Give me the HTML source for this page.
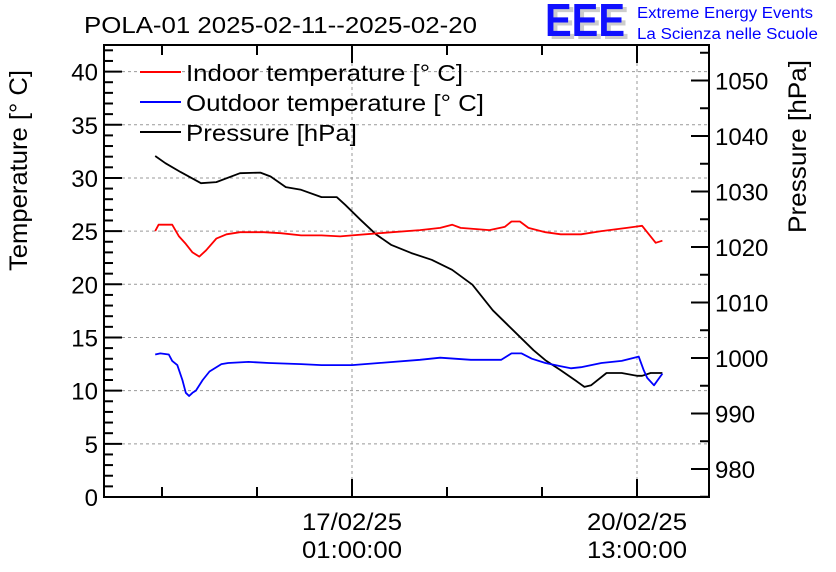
<!DOCTYPE html>
<html><head><meta charset="utf-8"><style>
body{margin:0;background:#fff}
svg{display:block;font-family:"Liberation Sans",sans-serif}
</style></head><body>
<svg id="c" width="836" height="572" viewBox="0 0 836 572">
<text x="84" y="33" font-size="23" textLength="393" lengthAdjust="spacingAndGlyphs">POLA-01 2025-02-11--2025-02-20</text>
<g>
<text x="549" y="39" font-size="46" font-weight="bold" fill="#ccc" textLength="80" lengthAdjust="spacingAndGlyphs">EEE</text>
<text x="545" y="36" font-size="46" font-weight="bold" fill="#1010ff" textLength="80" lengthAdjust="spacingAndGlyphs">EEE</text>
<text x="637" y="18" font-size="15.5" fill="#0000ff" textLength="176" lengthAdjust="spacingAndGlyphs">Extreme Energy Events</text>
<text x="637" y="39" font-size="15.5" fill="#0000ff" textLength="181" lengthAdjust="spacingAndGlyphs">La Scienza nelle Scuole</text>
</g>
<text transform="translate(27,271) rotate(-90)" font-size="25" textLength="201" lengthAdjust="spacingAndGlyphs">Temperature [° C]</text>
<text transform="translate(806,233) rotate(-90)" font-size="25" textLength="173" lengthAdjust="spacingAndGlyphs">Pressure [hPa]</text>
<g id="grid"></g><g id="axes"></g><g id="series"></g>
<g>
<line x1="140" y1="72" x2="181" y2="72" stroke="#f00" stroke-width="2"/>
<text x="186" y="81" font-size="23" textLength="277" lengthAdjust="spacingAndGlyphs">Indoor temperature [° C]</text>
<line x1="140" y1="102" x2="181" y2="102" stroke="#00f" stroke-width="2"/>
<text x="186" y="111" font-size="23" textLength="298" lengthAdjust="spacingAndGlyphs">Outdoor temperature [° C]</text>
<line x1="140" y1="132" x2="181" y2="132" stroke="#000" stroke-width="2"/>
<text x="186" y="141" font-size="23" textLength="171" lengthAdjust="spacingAndGlyphs">Pressure [hPa]</text>
</g>
</svg>
<script>
// time in hours relative to 17/02/25 01:00:00
const indoorT=[-58,-57,-53,-51,-49,-47,-45,-43,-40,-37,-33,-26,-21,-15,-9,-3.5,0,8,20,26,29.5,32,40.5,45,47,49.5,52,57,61.5,67.5,73.5,81,85.5,88,89.5,91.5];
const indoorV=[25,25.6,25.6,24.5,23.8,23,22.6,23.2,24.3,24.7,24.9,24.9,24.8,24.6,24.6,24.5,24.6,24.8,25.1,25.3,25.6,25.3,25.1,25.4,25.9,25.9,25.3,24.9,24.7,24.7,25.0,25.3,25.5,24.5,23.9,24.1];
const outdoorT=[-58,-56.5,-54,-53,-51.5,-50,-49,-48,-47,-46,-44,-42,-38.5,-36.5,-30.5,-24.5,-15,-9,0,8,20,26,35,44,47,50,53,57,61.5,64.5,67.5,73.5,79.5,84.5,86,87,89,91.5];
const outdoorV=[13.4,13.5,13.4,12.8,12.4,11,9.8,9.5,9.8,10,11,11.8,12.5,12.6,12.7,12.6,12.5,12.4,12.4,12.6,12.9,13.1,12.9,12.9,13.5,13.5,13,12.6,12.3,12.1,12.2,12.6,12.8,13.2,11.9,11.2,10.5,11.6];
const presT=[-58,-55,-50.5,-44.5,-40,-33,-27,-24,-19.5,-15,-9,-4.5,-2,2.5,7,11.5,17.5,23.5,29.5,35.5,41.5,47.5,53.5,57,61.5,66,68.5,70.5,75,79.5,84,85.5,88,91.5];
const presV=[1036.4,1035.1,1033.5,1031.5,1031.7,1033.3,1033.4,1032.7,1030.8,1030.3,1029,1029,1027.6,1024.9,1022.3,1020.4,1018.9,1017.7,1015.9,1013.2,1008.6,1005,1001.4,999.6,997.8,995.9,994.8,995.1,997.3,997.3,996.8,996.8,997.3,997.3];
const tempTicks=[0,5,10,15,20,25,30,35,40];
const presTicks=[980,990,1000,1010,1020,1030,1040,1050];
const timeLabels=[[0,"17/02/25","01:00:00"],[84,"20/02/25","13:00:00"]];

const L=104,R=709,T=45,B=497;
const X=h=>352+h*285/84;
const YT=v=>B-v*(B-T)/42.5;
const YP=p=>358-(p-1000)*5.55;
const NS="http://www.w3.org/2000/svg";
function mk(tag,attrs,parent){const e=document.createElementNS(NS,tag);for(const k in attrs)e.setAttribute(k,attrs[k]);parent.appendChild(e);return e;}
const grid=document.getElementById('grid'),axes=document.getElementById('axes'),ser=document.getElementById('series');
tempTicks.slice(1).forEach(v=>{const l=mk('line',{x1:L,x2:R,y1:YT(v),y2:YT(v),stroke:'#999','stroke-dasharray':'3,3'},grid);

});
timeLabels.forEach(t=>{const l=mk('line',{x1:X(t[0]),x2:X(t[0]),y1:T,y2:B,stroke:'#999','stroke-dasharray':'3,3'},grid);

});
const fr=mk('rect',{x:L,y:T,width:R-L,height:B-T,fill:'none',stroke:'#000','stroke-width':2},axes);


for(let v=0;v<=42;v++){const len=v%5==0?18:9;mk('line',{x1:L,x2:L+len,y1:YT(v),y2:YT(v),stroke:'#000','stroke-width':2},axes);}
tempTicks.forEach(v=>{const t=mk('text',{x:L-6,y:YT(v)+9,'font-size':24,'text-anchor':'end'},axes);t.textContent=v;

});
for(let p=975;p<=1055;p+=5){const len=p%10==0?18:9;mk('line',{x1:R-len,x2:R,y1:YP(p),y2:YP(p),stroke:'#000','stroke-width':2},axes);}
presTicks.forEach(p=>{const t=mk('text',{x:R+6,y:YP(p)+9,'font-size':24},axes);t.textContent=p;

});
for(let h=-168;h<=112;h+=28){const x=X(h);if(x<L||x>R)continue;const len=(h%84==0)?18:10;
mk('line',{x1:x,x2:x,y1:B,y2:B-len,stroke:'#000','stroke-width':2},axes);
mk('line',{x1:x,x2:x,y1:T,y2:T+len,stroke:'#000','stroke-width':2},axes);}
timeLabels.forEach(t=>{[t[1],t[2]].forEach((s,i)=>{const e=mk('text',{x:X(t[0]),y:530+i*28,'font-size':24,'text-anchor':'middle',textLength:100,lengthAdjust:'spacingAndGlyphs'},axes);e.textContent=s;

});});
function line(ts,vs,Y,col,name){const d=ts.map((t,i)=>(i?'L':'M')+X(t).toFixed(1)+','+Y(vs[i]).toFixed(1)).join('');
const p=mk('path',{d:d,fill:'none',stroke:col,'stroke-width':1.8,'stroke-linejoin':'round'},ser);

}
line(presT,presV,YP,'#000','pressure-line');
line(indoorT,indoorV,YT,'#f00','indoor-temperature-line');
line(outdoorT,outdoorV,YT,'#00f','outdoor-temperature-line');
</script>
</body></html>
